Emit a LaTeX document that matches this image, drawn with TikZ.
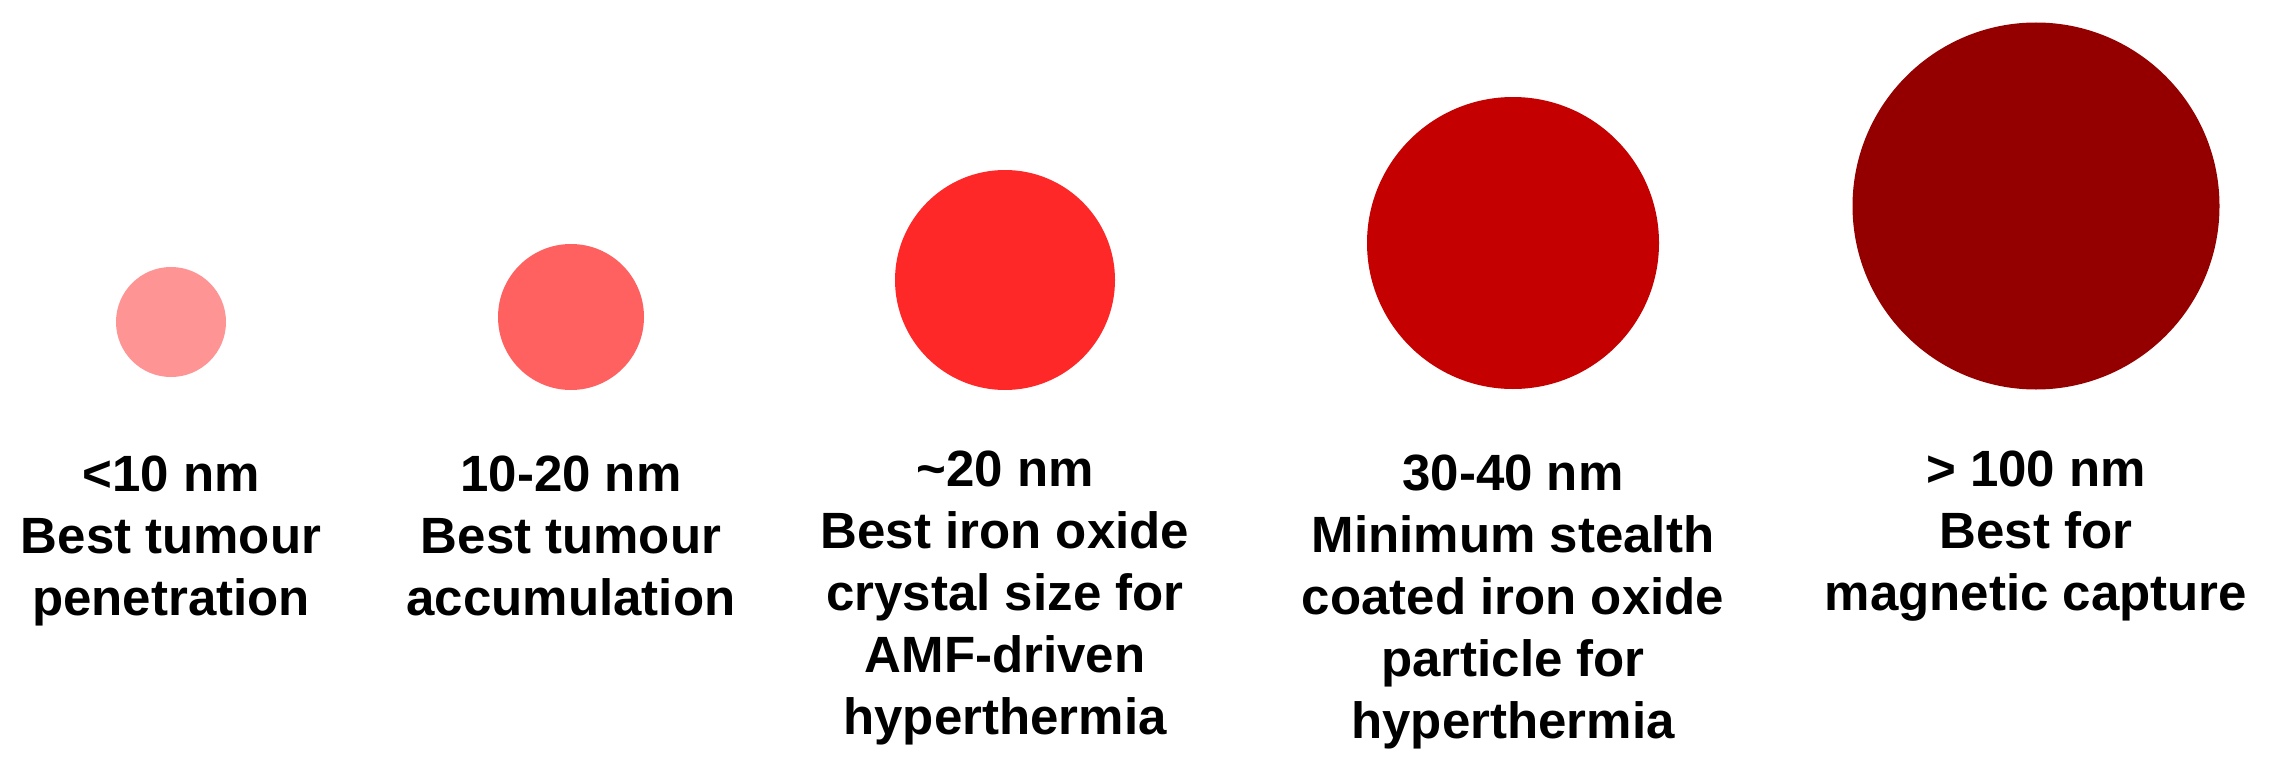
\documentclass[tikz,border=0pt]{standalone}
\usepackage{fontspec}
\setmainfont{Liberation Sans}
\definecolor{cA}{RGB}{255,148,148}
\definecolor{cB}{RGB}{255,97,97}
\definecolor{cC}{RGB}{255,40,40}
\definecolor{cD}{RGB}{196,0,0}
\definecolor{cE}{RGB}{148,0,0}
\tikzset{
  particle/.style={circle, inner sep=0pt, outer sep=0pt, draw=none},
  caption/.style={align=center, anchor=north, inner sep=0pt, font=\fontsize{51}{62}\selectfont\bfseries}
}
\begin{document}
\begin{tikzpicture}[x=1pt,y=-1pt]
\useasboundingbox[fill=white] (0,0) rectangle (2273,768);
\node[particle, fill=cA, minimum size=110pt] (p1) at (171,322) {};
\node[particle, fill=cB, minimum size=146pt] (p2) at (571,317) {};
\node[particle, fill=cC, minimum size=220pt] (p3) at (1005,280) {};
\node[particle, fill=cD, minimum size=292pt] (p4) at (1513,243) {};
\node[particle, fill=cE, minimum size=367pt] (p5) at (2036,206) {};
\node[caption] (t1) at (171,456) {<10 nm\\Best tumour\\penetration};
\node[caption] (t2) at (571,456) {10-20 nm\\Best tumour\\accumulation};
\node[caption] (t3) at (1005,451) {\textasciitilde20 nm\\Best iron oxide\\crystal size for\\AMF-driven\\hyperthermia};
\node[caption] (t4) at (1513,455) {30-40 nm\\Minimum stealth\\coated iron oxide\\particle for\\hyperthermia};
\node[caption] (t5) at (2036,451) {> 100 nm\\Best for\\magnetic capture};
\end{tikzpicture}
\end{document}
